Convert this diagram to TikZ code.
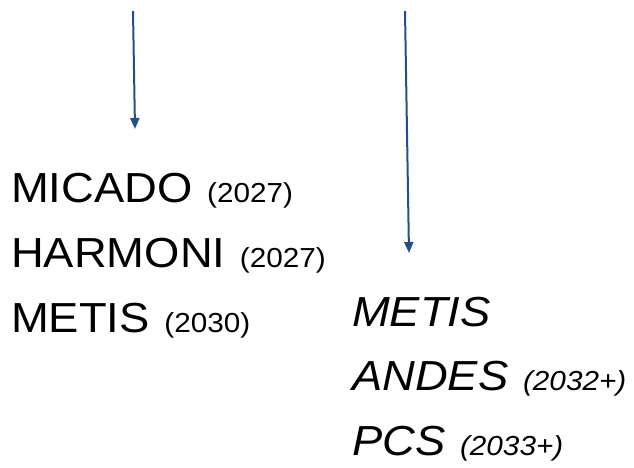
\documentclass[tikz,border=0pt]{standalone}
\usepackage{fontspec}
\setmainfont{Liberation Sans}[FakeStretch=1.08]
\usetikzlibrary{arrows.meta}
\definecolor{arrowblue}{RGB}{38,78,138}
\tikzset{
  flow/.style={draw=arrowblue, line width=2pt,
    -{Triangle[width=9pt,length=11pt]}},
  big/.style={anchor=base west, inner sep=0pt,
    font=\fontsize{42}{48}\selectfont},
}
\newcommand{\yr}[1]{\hspace{2pt}{\fontsize{27.5}{32}\selectfont #1}}
\begin{document}
\begin{tikzpicture}[x=1pt,y=-1pt]
  \useasboundingbox (0,0) rectangle (634,468);

  % instrument list, first phase
  \node[big] (micado)  at (11,202) {MICADO \yr{(2027)}};
  \node[big] (harmoni) at (11,267) {HARMONI \yr{(2027)}};
  \node[big] (metisA)  at (11,332) {METIS \yr{(2030)}};

  % instrument list, second phase (italic)
  \node[big] (metisB) at (352,326) {\itshape METIS};
  \node[big] (andes)  at (352,390) {\itshape ANDES \yr{(2032+)}};
  \node[big] (pcs)    at (352,455) {\itshape PCS \yr{(2033+)}};

  % incoming arrows
  \coordinate (leftTop) at (133,11);
  \coordinate (leftEnd) at (135,129);
  \coordinate (rightTop) at (405,11);
  \coordinate (rightEnd) at (409,253);
  \draw[flow] (leftTop) -- (leftEnd);
  \draw[flow] (rightTop) -- (rightEnd);
\end{tikzpicture}
\end{document}
